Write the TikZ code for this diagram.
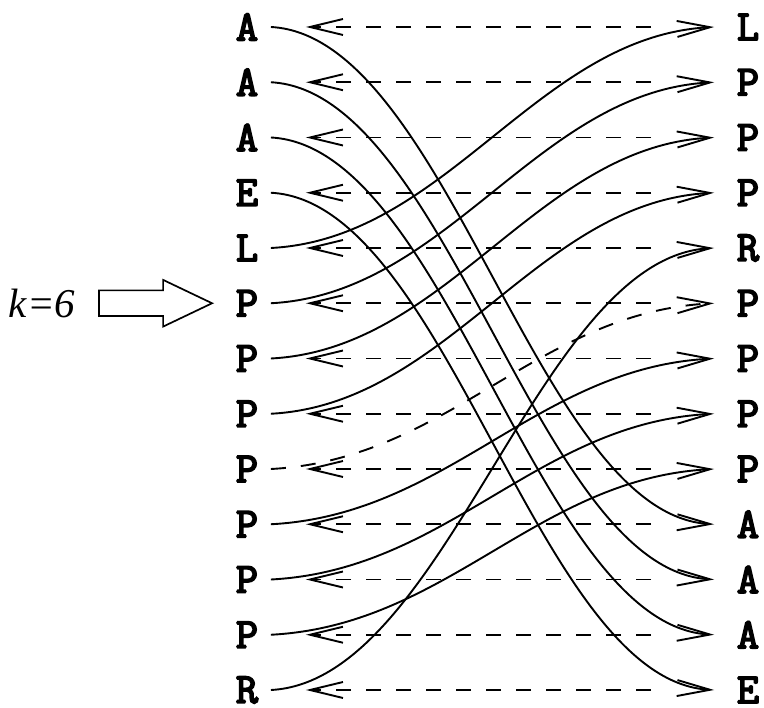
\documentclass[tikz,border=0pt]{standalone}
\usepackage{fontspec}
\setmainfont{Liberation Serif}
\newfontfamily\lettersfont{Latin Modern Mono}[FakeBold=4]
\usetikzlibrary{arrows.meta,shapes.arrows}
\begin{document}
\begin{tikzpicture}[x=1pt,y=1pt,line width=1.9pt]
        \tikzset{letter/.style={inner sep=0pt, font=\lettersfont\fontsize{43}{43}\selectfont},
                 lcol/.style={letter, minimum width=46pt},
                 rcol/.style={letter, minimum width=66pt},
                 barb/.tip={Straight Barb[length=33pt,width=16pt]},
                 dash15/.style={dash pattern=on 15pt off 15pt},
                 down/.style={out=-3, in=177, distance=177pt},
                 up/.style={out=3, in=-177, distance=177pt}}
        \useasboundingbox (0,27) rectangle (764,-681);
        % left column (F) and right column (L)
        \foreach \ch [count=\i from 0] in {A,A,A,E,L,P,P,P,P,P,P,P,R}
            \node[lcol] (F\i) at (247,-55.25*\i) {\ch};
        \foreach \ch [count=\i from 0] in {L,P,P,P,R,P,P,P,P,A,A,A,E}
            \node[rcol] (L\i) at (748,-55.25*\i) {\ch};
        % dashed rows, right to left
        \foreach \i in {0,...,12}
            \draw[dash15, -{barb}] ([xshift=-63pt]L\i.west) -- ([xshift=35pt]F\i.east);
        % solid links F -> L
        \foreach \a/\b in {0/9,1/10,2/11,3/12}
            \draw[-{barb}] (F\a.east) to[down] (L\b.west);
        \foreach \a/\b in {4/0,5/1,6/2,7/3,9/6,10/7,11/8,12/4}
            \draw[-{barb}] (F\a.east) to[up] (L\b.west);
        \draw[dash15, -{barb}] (F8.east) to[up] (L5.west);
        % k marker
        \node[single arrow, draw, line width=1.7pt, minimum height=113pt, inner xsep=0pt, inner ysep=12pt,
              single arrow head extend=10.5pt, single arrow tip angle=51, anchor=tip] (karrow) at ([xshift=-9pt]F5.west) {};
        \node[font=\itshape\fontsize{41}{41}\selectfont, anchor=east, inner sep=0pt] (klabel) at ([xshift=-22pt]karrow.tail) {k=6};
\end{tikzpicture}
\end{document}
